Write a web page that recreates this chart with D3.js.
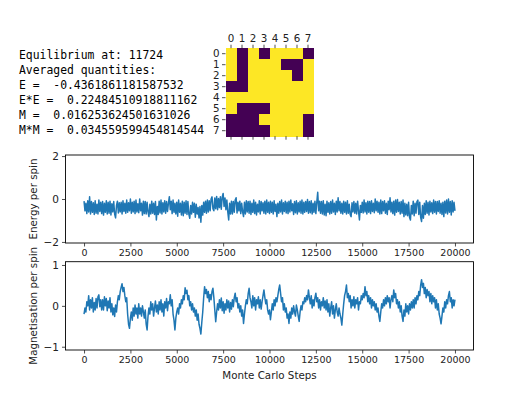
<!DOCTYPE html>
<html>
<head>
<meta charset="utf-8">
<script src="https://cdn.jsdelivr.net/npm/d3@7"></script>
<style>
  body { margin: 0; background: #fff; }
  svg { display: block; }
  .tick text { font-family: "DejaVu Sans", sans-serif; font-size: 9.5px; fill: #222; }
  .tick line { stroke: #222; stroke-width: 0.8; }
</style>
</head>
<body>
<div id="chart"></div>
<script>
// summary printed on the left
var infoLines = [
	"Equilibrium at: 11724",
	"Averaged quantities:",
	"E =  -0.4361861181587532",
	"E*E =  0.22484510918811162",
	"M =  0.016253624501631026",
	"M*M =  0.034559599454814544"
];

// final spin lattice, 1 = up (yellow), 0 = down (purple)
var lattice = [
	[1,0,1,0,1,1,1,0],
	[1,0,1,1,1,0,0,1],
	[1,0,1,1,1,1,0,1],
	[0,0,1,1,1,1,1,1],
	[1,1,1,1,1,1,1,1],
	[1,0,0,0,1,1,1,1],
	[0,0,0,1,1,1,1,0],
	[0,0,0,0,1,1,1,0]
];

var stepTicks = [0, 2500, 5000, 7500, 10000, 12500, 15000, 17500, 20000];
var energyTicks = [-2, 0, 2];
var magTicks = [-1, 0, 1];

// energy per spin, read every 50 MC steps (one row = 1000 steps)
var energy = [
	-0.10,-0.55,-0.20,-0.68,-0.08,-0.60,0.10,-0.70,-0.12,-0.62,-0.18,-0.72,-0.08,-0.66,-0.25,-0.70,-0.05,-0.58,-0.15,-0.68,
	-0.12,-0.75,-0.20,-0.62,-0.08,-0.70,-0.15,-0.66,-0.10,-0.74,-0.22,-0.60,-0.12,-0.70,-0.88,-0.30,-0.10,-0.65,-0.18,-0.60,
	-0.15,-0.70,-0.08,-0.58,-0.20,-0.66,-0.05,-0.62,-0.18,-0.55,0.00,-0.66,-0.15,-0.60,-0.10,-0.68,-0.05,-0.60,-0.22,-0.64,
	0.00,-0.55,-0.20,-0.75,-0.10,-0.68,-0.12,-0.70,-0.15,-0.60,-0.82,-0.25,-0.70,-0.10,-0.66,-0.20,-0.72,-0.12,-0.98,-0.35,
	-0.72,-0.10,-0.65,-0.05,-0.70,-0.18,-0.60,-0.08,-0.66,-0.12,-0.58,-0.20,0.11,-0.50,-0.10,-0.68,-0.05,-0.62,-0.20,-0.70,
	-0.15,-0.80,-0.05,-0.62,-0.20,-0.74,-0.10,-0.78,-0.15,-0.66,-0.08,-0.72,-0.12,-0.70,-0.90,-0.30,-0.70,-0.15,-0.62,-0.20,
	-0.85,-0.25,-0.70,-0.40,-0.88,-0.35,-1.08,-0.30,-0.75,-0.15,-0.62,-0.10,-0.66,-0.05,-0.60,-0.08,-0.55,0.00,0.10,-0.45,
	-0.55,0.05,-0.45,0.12,-0.50,0.02,-0.40,0.10,-0.48,0.08,0.26,-0.35,0.05,-0.50,-0.05,-0.60,-0.98,-0.20,-0.70,-0.10,
	-0.70,-0.12,-0.62,-0.05,0.06,-0.65,-0.15,-0.55,-0.10,-0.68,-0.20,-0.60,-0.82,-0.15,-0.70,-0.08,-0.60,-0.12,-0.66,-0.10,
	-0.72,-0.20,-0.62,-0.05,-0.68,-0.15,-0.74,-0.25,-0.60,-0.08,-0.70,-0.12,-0.55,-0.18,-0.66,-0.10,-0.70,-0.05,-0.62,-0.15,
	-0.68,-0.10,-0.62,-0.15,-0.70,-0.08,-0.58,-0.25,-0.82,-0.20,-0.66,-0.12,-0.60,-0.05,-0.70,-0.18,-0.58,-0.10,-0.65,-0.15,
	-0.68,-0.10,-0.60,-0.05,-0.55,-0.22,-0.72,-0.12,-0.64,-0.08,-0.70,-0.18,-0.60,-0.10,-0.66,-0.05,-0.70,-0.15,-0.62,-0.12,
	-0.58,-0.02,-0.66,-0.12,-0.64,-0.08,-0.70,-0.20,-0.62,-0.10,-0.68,-0.15,0.31,-0.55,-0.10,-0.66,-0.12,-0.70,-0.08,-0.74,
	-0.25,-0.78,-0.10,-0.62,-0.18,-0.70,-0.12,-0.66,-0.05,-0.60,-0.20,-0.72,-0.10,-0.60,0.06,-0.55,-0.12,-0.66,-0.20,-0.70,
	-0.10,-0.62,-0.15,-0.70,-0.08,-0.66,-0.25,-0.72,-0.82,-0.18,-0.60,-0.12,-0.66,-0.20,-0.70,-0.10,-0.55,-0.98,-0.30,-0.62,
	-0.15,-0.65,-0.05,-0.60,-0.18,-0.70,-0.10,-0.62,-0.12,-0.68,-0.08,-0.58,-0.20,-0.64,0.00,-0.55,-0.10,-0.62,-0.15,-0.70,
	-0.05,-0.68,-0.12,-0.55,-0.08,-0.66,-0.20,-0.72,-0.10,-0.50,0.06,-0.60,-0.15,-0.68,-0.10,-0.75,-0.05,-0.62,-0.02,-0.58,
	-0.15,-0.70,-0.12,-0.66,-0.05,-0.82,-0.20,-0.74,-0.25,-0.78,-0.15,-0.85,-0.98,-0.30,-0.70,-0.10,-0.78,-0.20,-0.66,-0.12,
	-0.05,-0.72,-0.15,-0.85,-1.05,-0.30,-0.90,-0.20,-0.72,-0.08,-0.66,-0.15,-0.74,-0.10,-0.60,-0.18,-0.68,-0.05,-0.62,-0.12,
	-0.70,-0.12,-0.58,-0.08,-0.66,-0.20,-0.72,-0.15,-0.82,-0.10,-0.65,-0.05,-0.70,0.00,-0.62,-0.12,-0.74,-0.08,-0.60,-0.15,
	-0.55
];

// magnetisation per spin, read every 50 MC steps (one row = 1000 steps)
var magnet = [
	-0.20,-0.05,-0.15,0.10,0.00,0.25,-0.10,0.15,-0.05,0.20,-0.15,0.08,-0.10,0.18,-0.05,0.22,0.27,-0.02,0.15,-0.10,
	0.15,-0.10,0.22,0.00,0.18,-0.12,0.12,-0.05,0.20,-0.15,0.05,-0.22,-0.05,-0.26,0.02,-0.15,0.10,0.25,0.15,0.35,
	0.45,0.54,0.35,0.45,0.25,0.10,0.20,-0.20,-0.45,-0.55,-0.30,-0.15,-0.35,-0.05,-0.25,0.02,-0.20,-0.05,-0.30,0.05,
	-0.20,-0.05,-0.25,0.00,-0.15,-0.30,-0.10,-0.45,-0.59,-0.25,-0.05,-0.20,0.10,-0.10,0.05,-0.25,-0.05,0.12,-0.15,0.02,
	-0.20,0.10,-0.10,0.15,-0.15,0.05,-0.25,0.10,-0.05,0.18,-0.12,0.10,0.05,0.27,0.00,0.15,-0.20,-0.35,-0.59,-0.30,
	-0.15,-0.05,-0.20,0.05,-0.05,0.15,0.05,0.25,0.15,0.44,0.30,0.38,0.15,0.25,0.00,0.10,-0.10,0.05,-0.15,-0.05,
	-0.25,-0.10,-0.35,-0.20,-0.45,-0.55,-0.69,-0.40,-0.15,0.20,0.47,0.30,0.40,0.20,0.35,0.10,0.28,0.15,0.35,0.43,
	0.20,-0.10,-0.39,-0.15,0.05,-0.10,0.15,-0.05,0.19,-0.12,0.10,-0.18,0.05,-0.10,0.15,-0.05,0.12,-0.15,0.08,-0.08,
	0.15,-0.02,0.20,0.31,0.10,0.20,-0.05,0.05,-0.15,0.00,-0.25,-0.10,-0.43,-0.20,0.00,0.15,0.05,0.30,0.43,0.20,
	0.10,-0.05,0.25,0.00,0.20,-0.10,0.15,0.05,0.22,-0.05,0.15,-0.08,0.10,0.25,0.39,0.20,0.05,0.15,-0.10,-0.20,
	-0.10,-0.34,-0.15,0.05,-0.10,0.15,0.00,0.20,0.10,0.25,0.40,0.51,0.30,0.10,0.20,-0.10,0.05,-0.15,-0.05,-0.30,
	-0.20,-0.43,-0.15,-0.30,-0.05,-0.20,0.00,-0.15,-0.25,0.02,-0.10,-0.25,-0.38,-0.15,0.00,-0.10,0.10,0.05,0.20,0.10,
	0.25,0.15,0.39,0.20,0.05,0.25,-0.05,0.15,0.00,0.20,0.31,0.10,0.20,-0.05,0.15,-0.10,0.10,0.00,0.20,-0.05,
	0.12,-0.10,0.15,-0.15,0.05,-0.25,-0.05,0.10,-0.20,0.00,-0.30,-0.10,0.05,-0.15,-0.25,-0.05,-0.20,-0.30,-0.47,-0.20,
	0.05,0.25,0.35,0.51,0.20,0.30,0.10,0.25,-0.05,0.15,0.00,0.22,-0.05,0.15,0.05,0.20,-0.10,0.10,0.05,0.25,
	0.15,0.30,0.20,0.47,0.25,0.35,0.10,0.25,0.05,0.20,-0.05,0.15,0.00,0.10,-0.10,0.05,-0.15,-0.05,-0.25,-0.38,
	-0.15,0.05,-0.05,0.15,0.00,0.20,0.05,0.25,0.10,0.20,-0.05,0.15,0.25,0.10,0.39,0.20,0.30,0.05,0.15,-0.05,
	0.10,-0.15,0.00,-0.25,-0.38,-0.10,-0.25,0.05,-0.15,0.00,-0.20,0.05,-0.10,0.10,-0.05,0.15,-0.05,0.20,0.05,0.25,
	0.15,0.35,0.25,0.50,0.64,0.45,0.55,0.30,0.45,0.20,0.40,0.25,0.35,0.10,0.30,0.05,0.25,0.10,0.20,-0.05,
	0.15,-0.10,0.05,-0.20,-0.30,-0.44,-0.25,-0.05,-0.15,0.10,-0.05,0.15,0.05,0.25,0.35,0.10,0.20,-0.05,0.15,0.00,
	0.15
];

var steps = energy.map((d, i) => i * 50);

var W = 525, H = 400;
var svg = d3.select("#chart").append("svg")
	.attr("width", W)
	.attr("height", H);

// ---- text block
svg.append("g").selectAll("text")
	.data(infoLines)
	.enter()
	.append("text")
	.attr("x", 19)
	.attr("y", (d, i) => 59.3 + i * 14.85)
	.attr("xml:space", "preserve")
	.style("white-space", "pre")
	.style("font-family", "'DejaVu Sans Mono', monospace")
	.style("font-size", "11.4px")
	.style("fill", "#000")
	.text(d => d);

// ---- lattice (matshow)
var idx = d3.range(8);
var cx = d3.scaleBand().domain(idx).range([225.5, 313.5]);
var cy = d3.scaleBand().domain(idx).range([48.2, 136.2]);
var spinColor = d3.scaleOrdinal().domain([0, 1]).range(["#440154", "#fde725"]);

var cells = [];
lattice.forEach((row, r) => row.forEach((v, c) => cells.push({r: r, c: c, v: v})));

svg.append("g").selectAll("rect")
	.data(cells)
	.enter()
	.append("rect")
	.attr("x", d => cx(d.c))
	.attr("y", d => cy(d.r))
	.attr("width", cx.bandwidth() + 0.3)
	.attr("height", cy.bandwidth() + 0.3)
	.attr("shape-rendering", "crispEdges")
	.style("fill", d => spinColor(d.v));

var matTop = svg.append("g").attr("transform", "translate(0,48.2)")
	.call(d3.axisTop(cx).tickSize(3.5).tickPadding(2.5));
var matBottom = svg.append("g").attr("transform", "translate(0,136.2)")
	.call(d3.axisBottom(cx).tickSize(3.5).tickFormat(""));
var matLeft = svg.append("g").attr("transform", "translate(225.5,0)")
	.call(d3.axisLeft(cy).tickSize(3.5).tickPadding(2.5));
[matTop, matBottom, matLeft].forEach(g => g.select(".domain").remove());
[matTop, matLeft].forEach(g => g.selectAll(".tick text").style("font-size", "10.3px"));

// ---- time series panels
var x = d3.scaleLinear().domain([-1000, 21000]).range([65.5, 473.5]);

function panel(values, yDomain, top, bottom, yTicks, label, withXLabel){
	var y = d3.scaleLinear().domain(yDomain).range([bottom, top]);
	var g = svg.append("g");

	var line = d3.line()
		.x((d, i) => x(steps[i]))
		.y(d => y(d));

	g.append("path")
		.datum(values)
		.attr("d", line)
		.style("fill", "none")
		.style("stroke", "#1f77b4")
		.style("stroke-width", 1.5)
		.style("stroke-linejoin", "round");

	g.append("rect")
		.attr("x", x.range()[0])
		.attr("y", top)
		.attr("width", x.range()[1] - x.range()[0])
		.attr("height", bottom - top)
		.style("fill", "none")
		.style("stroke", "#000")
		.style("stroke-width", 0.9);

	var xa = g.append("g").attr("transform", `translate(0,${bottom})`)
		.call(d3.axisBottom(x).tickValues(stepTicks).tickSize(3.5).tickPadding(3)
			.tickSizeOuter(0).tickFormat(d3.format("d")));
	xa.select(".domain").remove();

	var ya = g.append("g").attr("transform", `translate(${x.range()[0]},0)`)
		.call(d3.axisLeft(y).tickValues(yTicks).tickSize(3.5).tickPadding(3).tickFormat(d3.format("d")));
	ya.select(".domain").remove();
	ya.selectAll(".tick text").style("font-size", "10.5px");

	g.append("text")
		.attr("transform", `translate(37,${(top + bottom) / 2}) rotate(-90)`)
		.attr("text-anchor", "middle")
		.style("font-family", "'DejaVu Sans', sans-serif")
		.style("font-size", "10.3px")
		.style("fill", "#222")
		.text(label);

	if(withXLabel){
		g.append("text")
			.attr("x", (x.range()[0] + x.range()[1]) / 2)
			.attr("y", bottom + 29)
			.attr("text-anchor", "middle")
			.style("font-family", "'DejaVu Sans', sans-serif")
			.style("font-size", "10.3px")
			.style("fill", "#222")
			.text("Monte Carlo Steps");
	}
}

panel(energy, [-2.05, 2.05], 155, 243, energyTicks, "Energy per spin", false);
panel(magnet, [-1.08, 1.08], 261.7, 350, magTicks, "Magnetisation per spin", true);
</script>
</body>
</html>
